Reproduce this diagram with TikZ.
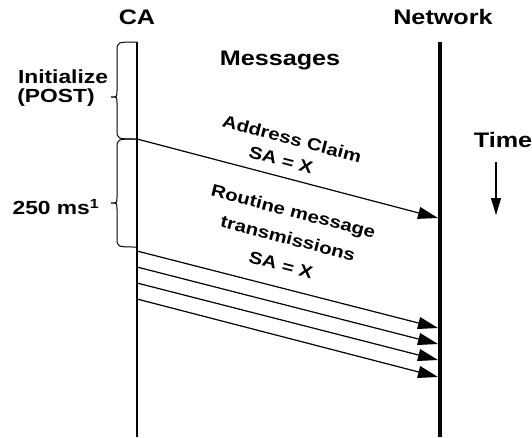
\documentclass[tikz,border=0pt]{standalone}
\usepackage{fontspec}
\setmainfont{Liberation Sans}
\usetikzlibrary{arrows.meta}

% curly brace left of the CA line: top y, tip y, bottom y
\newcommand{\sidebrace}[3]{%
  \draw[line width=1pt] (137,#1) .. controls (117,#1) .. (117,#1+9)
    -- (117,#2-6) .. controls (117,#2) .. (111,#2)
    .. controls (117,#2) .. (117,#2+6)
    -- (117,#3-9) .. controls (117,#3) .. (137,#3);}

\begin{document}
\begin{tikzpicture}[x=1pt,y=-1pt,
    head/.style={font=\bfseries\fontsize{21}{24}\selectfont, xscale=1.2, inner sep=0pt},
    side/.style={font=\bfseries\fontsize{19}{22}\selectfont, xscale=1.2, inner sep=0pt},
    lbl/.style={font=\bfseries\fontsize{17}{20}\selectfont, rotate=-14.6, xscale=1.2, inner sep=0pt},
    msg/.style={-{Triangle[length=20pt,width=12pt]}, line width=1.2pt}]
	\useasboundingbox (0,0) rectangle (532,437);
	
	\node[head] (ca) at (137,17) {CA};
	\node[head] (net) at (443,17) {Network};
	\node[head] (msgs) at (280,60) {Messages};
	\node[head] (time) at (503,140) {Time};
	
	% lifelines
	\coordinate (ca-top) at (137,42);
	\coordinate (ca-bot) at (137,437);
	\coordinate (net-top) at (440,42);
	\coordinate (net-bot) at (440,437);
	\draw[line width=1.5pt] (ca-top)--(ca-bot);
	\draw[line width=3.5pt] (net-top)--(net-bot);
	
	% phases on the CA side
	\sidebrace{42}{97}{139}
	\sidebrace{139}{203}{247}
	\node[side] (init) at (63,77) {Initialize};
	\node[side] (post) at (56,98) {(POST)};
	\node[side] (wait) at (56,207) {250 ms\textsuperscript{1}};
	
	% address claim
	\coordinate (ac-s) at (137,139);
	\coordinate (ac-e) at (438,218);
	\draw[msg] (ac-s)--(ac-e);
	\node[lbl] (ac-l1) at (292,139) {Address Claim};
	\node[lbl] (ac-l2) at (281,160) {SA = X};
	
	% routine messages
	\foreach \i/\ys/\ye in {1/251/328,2/267/344,3/283/360,4/299/377}{
		\coordinate (rm-s\i) at (137,\ys);
		\coordinate (rm-e\i) at (438,\ye);
		\draw[msg] (rm-s\i)--(rm-e\i);
	}
	\node[lbl] (rm-l1) at (293,213) {Routine message};
	\node[lbl] (rm-l2) at (288,238) {transmissions};
	\node[lbl] (rm-l3) at (281,265) {SA = X};
	
	% time direction
	\coordinate (t-s) at (496,162);
	\coordinate (t-e) at (496,215);
	\draw[-{Triangle[length=17pt,width=10pt]}, line width=1.2pt] (t-s)--(t-e);
\end{tikzpicture}
\end{document}
